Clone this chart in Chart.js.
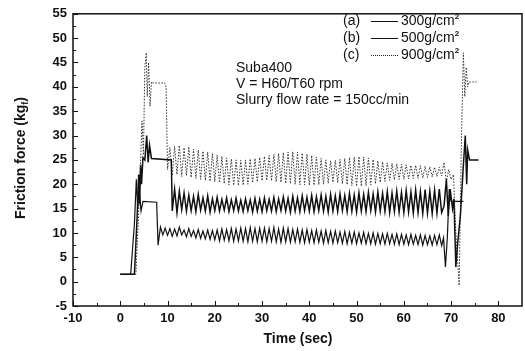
<!DOCTYPE html>
<html>
<head>
<meta charset="utf-8">
<script src="https://cdn.jsdelivr.net/npm/chart.js@4.4.1/dist/chart.umd.min.js"></script>
<style>
  html, body { margin: 0; padding: 0; background: #fff; }
  #wrap { position: relative; width: 525px; height: 351px; font-family: "Liberation Sans", Arial, sans-serif; color: #111; }
  #chart { position: absolute; left: 0; top: 0; }
  .note { position: absolute; font-size: 14px; white-space: nowrap; line-height: 1; }
  .leg { position: absolute; font-size: 14px; white-space: nowrap; line-height: 1; }
  .leg sup, .note sup { font-size: 8px; vertical-align: 6px; font-weight: bold; }
  .sample { position: absolute; width: 27px; height: 0; }
  #ytitle { position: absolute; left: 21px; top: 158px; transform: translate(-50%, -50%) rotate(-90deg); font-weight: bold; font-size: 14px; white-space: nowrap; }
  #ytitle sub { font-size: 9px; vertical-align: -3px; }
  #xtitle { position: absolute; left: 298px; top: 338px; transform: translate(-50%, -50%); font-weight: bold; font-size: 14px; white-space: nowrap; }
</style>
</head>
<body>
<div id="wrap">
  <canvas id="chart" width="525" height="351"></canvas>
  <div id="ytitle">Friction force (kg<sub>f</sub>)</div>
  <div id="xtitle">Time (sec)</div>
  <div class="note" style="left:236px; top:60px;">Suba400</div>
  <div class="note" style="left:236px; top:76px;">V = H60/T60 rpm</div>
  <div class="note" style="left:236px; top:92px;">Slurry flow rate = 150cc/min</div>
  <div class="leg" style="left:343px; top:13px;">(a)</div>
  <div class="sample" style="left:371px; top:21px; border-top:1px solid #111;"></div>
  <div class="leg" style="left:401px; top:13px;">300g/cm<sup>2</sup></div>
  <div class="leg" style="left:343px; top:30px;">(b)</div>
  <div class="sample" style="left:371px; top:38px; border-top:1.5px solid #111;"></div>
  <div class="leg" style="left:401px; top:30px;">500g/cm<sup>2</sup></div>
  <div class="leg" style="left:343px; top:47px;">(c)</div>
  <div class="sample" style="left:371px; top:55px; border-top:1px dotted #222;"></div>
  <div class="leg" style="left:401px; top:47px;">900g/cm<sup>2</sup></div>
</div>
<script>
// axis ticks
const xTicks = [-10, 0, 10, 20, 30, 40, 50, 60, 70, 80];
const yTicks = [-5, 0, 5, 10, 15, 20, 25, 30, 35, 40, 45, 50, 55];

// shared time grid for the steady polishing part (sec)
const midTime = [
  11.5, 12, 12.5, 13, 13.5, 14, 14.5, 15, 15.5, 16, 16.5, 17, 17.5, 18, 18.5, 19, 19.5, 20,
  20.5, 21, 21.5, 22, 22.5, 23, 23.5, 24, 24.5, 25, 25.5, 26, 26.5, 27, 27.5, 28, 28.5, 29, 29.5, 30,
  30.5, 31, 31.5, 32, 32.5, 33, 33.5, 34, 34.5, 35, 35.5, 36, 36.5, 37, 37.5, 38, 38.5, 39, 39.5, 40,
  40.5, 41, 41.5, 42, 42.5, 43, 43.5, 44, 44.5, 45, 45.5, 46, 46.5, 47, 47.5, 48, 48.5, 49, 49.5, 50,
  50.5, 51, 51.5, 52, 52.5, 53, 53.5, 54, 54.5, 55, 55.5, 56, 56.5, 57, 57.5, 58, 58.5, 59, 59.5, 60,
  60.5, 61, 61.5, 62, 62.5, 63, 63.5, 64, 64.5, 65, 65.5, 66, 66.5, 67, 67.5, 68
];

// (a) 300 g/cm2
const aStartTime = [0, 2.2, 3.0, 3.4, 3.7, 4.0, 4.4, 4.8, 7.7, 8.0, 8.5, 9.0, 9.5, 10.0, 10.5, 11.0];
const aStartVal  = [1.5, 1.5, 12, 21, 15, 19, 14.5, 16.5, 16.3, 7.5, 11.2, 9.6, 11.0, 9.5, 10.9, 9.3];
const aMid = [
  10.8, 9.4, 11.2, 9.6, 10.6, 9.2, 10.9, 9.3, 10.5, 9.0, 10.7, 8.9, 10.4, 8.8, 10.6, 8.7, 10.5, 8.6,
  10.6, 8.4, 10.8, 8.5, 10.7, 8.4, 10.9, 8.3, 10.8, 8.4, 11.0, 8.3, 10.9, 8.2, 11.1, 8.3, 10.9, 8.2, 11.0, 8.3,
  11.0, 8.2, 10.9, 8.3, 11.1, 8.2, 10.8, 8.1, 11.0, 8.2, 10.9, 8.1, 10.7, 8.2, 10.8, 8.1, 10.6, 8.0, 10.7, 8.1,
  10.5, 8.0, 10.6, 8.1, 10.4, 7.9, 10.5, 8.0, 10.3, 7.9, 10.4, 8.0, 10.2, 7.9, 10.3, 7.8, 10.1, 7.9, 10.2, 7.8,
  10.0, 7.9, 10.1, 7.8, 9.9, 7.8, 10.0, 7.7, 9.9, 7.8, 9.8, 7.7, 9.9, 7.8, 9.7, 7.7, 9.8, 7.6, 9.7, 7.7,
  9.6, 7.6, 9.7, 7.7, 9.5, 7.6, 9.6, 7.5, 9.5, 7.6, 9.4, 7.5, 9.5, 7.6, 9.6, 7.4
];
const aEndTime = [68.4, 68.8, 69.2, 69.6, 70.0, 72.6];
const aEndVal  = [9.0, 3.0, 9.0, 19.0, 16.5, 16.5];

// (b) 500 g/cm2
const bStartTime = [0, 3.0, 3.6, 3.9, 4.1, 4.3, 4.5, 4.8, 5.2, 5.6, 5.9, 6.2, 6.6, 10.8, 11.0];
const bStartVal  = [1.5, 1.5, 14, 22, 16, 24, 20, 25.5, 25, 30, 24.5, 28, 25.3, 25.0, 14.5];
const bMid = [
  19.0, 14.2, 18.6, 14.8, 18.2, 14.5, 17.8, 14.6, 17.5, 14.4, 17.9, 14.7, 17.2, 14.5, 17.6, 14.3, 17.0, 14.6,
  17.3, 14.5, 16.9, 14.7, 17.2, 14.4, 16.8, 14.6, 17.1, 14.5, 16.7, 14.4, 17.0, 14.6, 16.8, 14.3, 17.1, 14.5, 16.9, 14.4,
  17.2, 14.6, 16.9, 14.5, 17.3, 14.4, 17.0, 14.6, 17.4, 14.5, 17.1, 14.3, 17.5, 14.5, 17.2, 14.4, 17.6, 14.6, 17.3, 14.5,
  17.7, 14.4, 17.4, 14.6, 17.8, 14.5, 17.5, 14.3, 17.9, 14.5, 17.6, 14.4, 18.0, 14.6, 17.7, 14.4, 18.1, 14.5, 17.8, 14.3,
  18.2, 14.5, 17.9, 14.4, 18.3, 14.6, 18.0, 14.3, 18.4, 14.5, 18.1, 14.4, 18.5, 14.2, 18.2, 14.4, 18.6, 14.3, 18.3, 14.2,
  18.7, 14.3, 18.4, 14.1, 18.8, 14.2, 18.5, 14.0, 18.9, 14.1, 18.6, 14.0, 18.8, 14.1, 19.0, 14.2
];
const bEndTime = [68.5, 69.0, 69.4, 69.8, 70.3, 70.6, 71.0, 71.4, 72.0, 72.6, 73.0, 73.3, 73.5, 73.9, 75.8];
const bEndVal  = [15.5, 21, 13.5, 19, 15, 17, 3, 8, 14, 24, 30, 20, 27, 25, 25];

// (c) 900 g/cm2
const cStartTime = [0, 3.3, 3.9, 4.3, 4.6, 4.9, 5.2, 5.5, 5.7, 6.0, 6.3, 6.6, 7.0, 9.4, 9.7, 10.0, 10.5, 11.0];
const cStartVal  = [1.5, 1.5, 14, 25, 33, 26, 44, 47, 38, 45, 36, 41, 40.8, 40.8, 40, 23, 27.5, 21.8];
const cMid = [
  27.8, 22.0, 28.0, 21.6, 27.5, 21.8, 27.7, 21.4, 27.2, 21.2, 27.0, 21.0, 26.8, 20.8, 26.6, 20.6, 26.3, 20.5,
  26.0, 20.3, 25.7, 20.1, 25.4, 19.9, 25.2, 19.8, 25.0, 19.7, 24.9, 19.8, 25.0, 20.0, 25.2, 20.3, 25.3, 20.5, 25.5, 20.7,
  25.7, 20.8, 25.9, 20.7, 26.1, 20.5, 26.3, 20.4, 26.5, 20.2, 26.6, 20.1, 26.7, 20.0, 26.6, 19.9, 26.4, 19.9, 26.2, 19.8,
  25.9, 19.8, 25.6, 19.9, 25.3, 20.0, 25.0, 20.2, 24.8, 20.4, 24.9, 20.3, 25.1, 20.1, 25.3, 19.9, 25.5, 19.7, 25.6, 19.6,
  25.7, 19.6, 25.6, 19.7, 25.4, 19.9, 25.1, 20.1, 24.8, 20.4, 24.6, 20.6, 24.4, 20.8, 24.3, 20.9, 24.2, 21.0, 24.1, 21.0,
  24.0, 21.1, 23.9, 21.2, 23.9, 21.2, 23.8, 21.3, 23.7, 21.4, 23.6, 21.5, 23.5, 21.6, 23.5, 21.7
];
const cEndTime = [68.5, 69.0, 69.5, 70.0, 70.5, 71.0, 71.7, 72.2, 72.6, 72.9, 73.2, 73.5, 73.8, 75.4];
const cEndVal  = [24.5, 20.5, 23, 21, 22, 10, -0.8, 30, 47, 38, 44, 40, 41, 41];

function toPoints(times, vals) {
  return times.map((t, i) => ({ x: t, y: vals[i] }));
}

const seriesA = toPoints([...aStartTime, ...midTime, ...aEndTime], [...aStartVal, ...aMid, ...aEndVal]);
const seriesB = toPoints([...bStartTime, ...midTime, ...bEndTime], [...bStartVal, ...bMid, ...bEndVal]);
const seriesC = toPoints([...cStartTime, ...midTime, ...cEndTime], [...cStartVal, ...cMid, ...cEndVal]);

// frame + inward ticks like the original plot
const frameTicks = {
  id: 'frameTicks',
  afterDraw(chart) {
    const { ctx, chartArea: a, scales: { x, y } } = chart;
    ctx.save();
    ctx.strokeStyle = '#111';
    ctx.lineWidth = 1;
    for (let v = -10; v <= 80; v += 5) {
      const px = Math.round(x.getPixelForValue(v)) + 0.5;
      const len = v % 10 === 0 ? 5 : 3;
      ctx.beginPath();
      ctx.moveTo(px, a.bottom);
      ctx.lineTo(px, a.bottom - len);
      ctx.stroke();
    }
    for (let v = -5; v <= 55; v += 2.5) {
      const py = Math.round(y.getPixelForValue(v)) + 0.5;
      const len = v % 5 === 0 ? 5 : 3;
      ctx.beginPath();
      ctx.moveTo(a.left, py);
      ctx.lineTo(a.left + len, py);
      ctx.stroke();
    }
    ctx.lineWidth = 1.5;
    ctx.strokeRect(a.left, a.top, a.right - a.left, a.bottom - a.top);
    ctx.restore();
  }
};

const tickFont = { family: '"Liberation Sans", Arial, sans-serif', size: 13, weight: 'bold' };

new Chart(document.getElementById('chart').getContext('2d'), {
  type: 'line',
  data: {
    datasets: [{
      label: '300g/cm2',
      data: seriesA,
      borderColor: '#111',
      borderWidth: 1.2,
      pointRadius: 0
    }, {
      label: '500g/cm2',
      data: seriesB,
      borderColor: '#111',
      borderWidth: 1.5,
      pointRadius: 0
    }, {
      label: '900g/cm2',
      data: seriesC,
      borderColor: '#333',
      borderWidth: 1,
      borderDash: [1.5, 1.5],
      pointRadius: 0
    }]
  },
  options: {
    responsive: false,
    animation: false,
    devicePixelRatio: 1,
    layout: { padding: { top: 10, right: 3, left: 0, bottom: 0 } },
    plugins: { legend: { display: false }, tooltip: { enabled: false } },
    scales: {
      x: {
        type: 'linear',
        min: -10,
        max: 85,
        grid: { display: false, drawTicks: false },
        border: { display: false },
        afterBuildTicks: (s) => { s.ticks = xTicks.map(v => ({ value: v })); },
        afterFit: (s) => { s.height = 45; },
        ticks: { color: '#111', font: tickFont, padding: 5, maxRotation: 0 }
      },
      y: {
        type: 'linear',
        min: -5,
        max: 55,
        grid: { display: false, drawTicks: false },
        border: { display: false },
        afterBuildTicks: (s) => { s.ticks = yTicks.map(v => ({ value: v })); },
        afterFit: (s) => { s.width = 73; },
        ticks: { color: '#111', font: tickFont, padding: 6 }
      }
    }
  },
  plugins: [frameTicks]
});
</script>
</body>
</html>
